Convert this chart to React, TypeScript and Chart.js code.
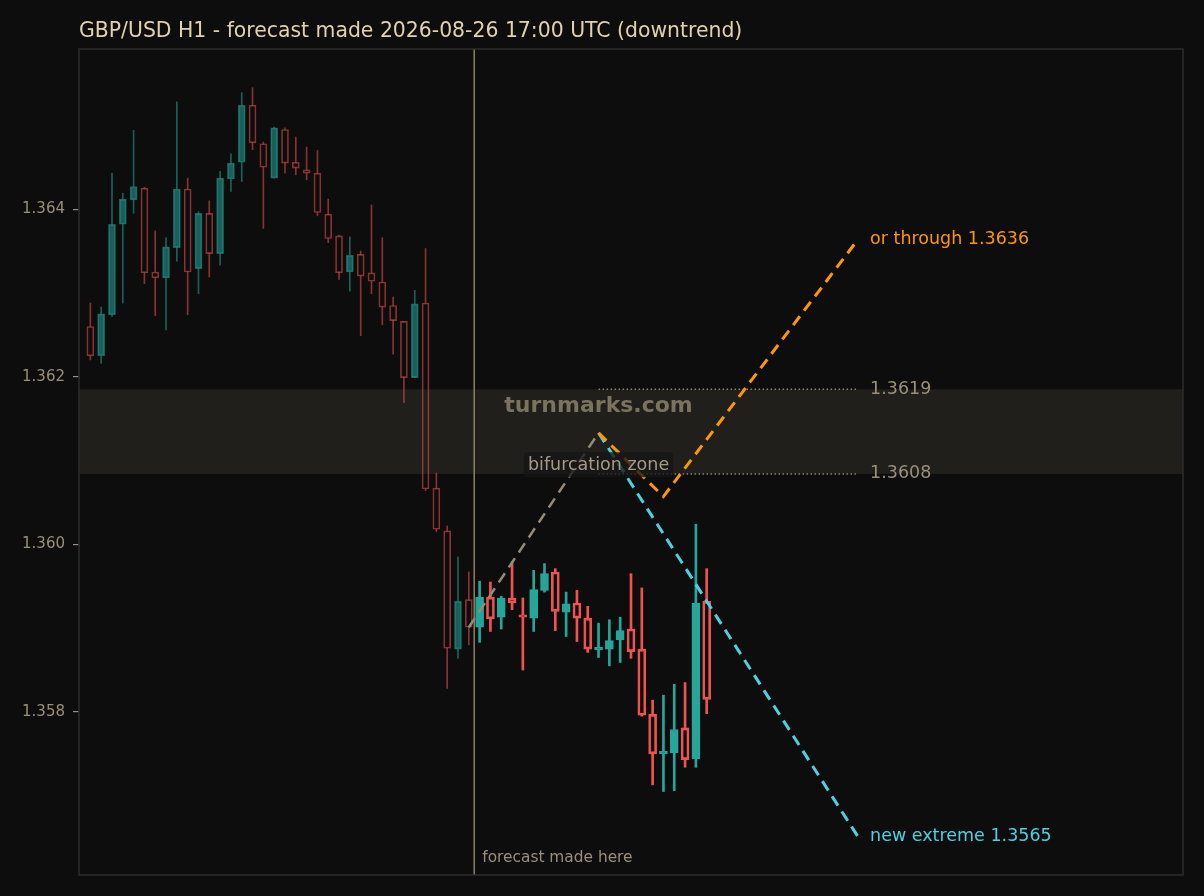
import { useEffect, useRef } from 'react'
import { Chart, registerables } from 'chart.js'

Chart.register(...registerables)

// history candles (H1), oldest first, x = 0..35
const histOpen = [
  1.3626, 1.36225, 1.36274, 1.36382, 1.36411, 1.36425, 1.36325, 1.36318, 1.36354, 1.36424,
  1.36329, 1.36395, 1.36347, 1.36436, 1.36456, 1.36524, 1.36478, 1.36437, 1.36495, 1.36456,
  1.36447, 1.36443, 1.36394, 1.36368, 1.36325, 1.36346, 1.36324, 1.36313, 1.36285, 1.36266,
  1.36199, 1.36288, 1.36067, 1.36016, 1.35875, 1.35934,
]
const histHigh = [
  1.36288, 1.36283, 1.36443, 1.36419, 1.36494, 1.36426, 1.36374, 1.36366, 1.36528, 1.36437,
  1.36397, 1.3641, 1.36445, 1.36466, 1.36539, 1.36545, 1.3648, 1.36498, 1.36497, 1.36486,
  1.36474, 1.3647, 1.36412, 1.36369, 1.36367, 1.3635, 1.36405, 1.36366, 1.36295, 1.36266,
  1.36303, 1.36353, 1.36085, 1.36022, 1.35985, 1.35967,
]
const histLow = [
  1.3622, 1.36216, 1.36272, 1.36288, 1.36395, 1.36311, 1.36273, 1.36256, 1.36338, 1.36274,
  1.36299, 1.36319, 1.36333, 1.36421, 1.36433, 1.36471, 1.36377, 1.36437, 1.36443, 1.36441,
  1.36435, 1.36392, 1.3636, 1.36316, 1.36302, 1.36249, 1.36299, 1.36262, 1.36227, 1.36169,
  1.36199, 1.36064, 1.36015, 1.35828, 1.35864, 1.3588,
]
const histClose = [
  1.36225, 1.36275, 1.36382, 1.36412, 1.36427, 1.36324, 1.36318, 1.36355, 1.36424, 1.36325,
  1.36395, 1.36347, 1.36437, 1.36455, 1.36524, 1.36479, 1.3645, 1.36497, 1.36455, 1.36449,
  1.36443, 1.36396, 1.36365, 1.36324, 1.36345, 1.3632, 1.36314, 1.36283, 1.36267, 1.36199,
  1.36287, 1.36066, 1.36018, 1.35876, 1.35932, 1.35901,
]

// candles after the forecast point, x = 36..57
const fcOpen = [
  1.35901, 1.35937, 1.35913, 1.35936, 1.35916, 1.35912, 1.35945, 1.35967, 1.35919, 1.3593,
  1.35912, 1.35874, 1.35875, 1.35886, 1.35899, 1.35875, 1.35797, 1.3575, 1.35751, 1.35781,
  1.35744, 1.35932,
]
const fcHigh = [
  1.35956, 1.35955, 1.35938, 1.35979, 1.35936, 1.35969, 1.35977, 1.35971, 1.35943, 1.35945,
  1.35926, 1.35906, 1.3591, 1.35913, 1.35965, 1.35948, 1.35814, 1.3582, 1.35833, 1.35835,
  1.36024, 1.35971,
]
const fcLow = [
  1.35883, 1.35896, 1.35899, 1.35922, 1.3585, 1.35896, 1.35943, 1.35897, 1.3589, 1.35884,
  1.35871, 1.35865, 1.35855, 1.35859, 1.35864, 1.35795, 1.35713, 1.35705, 1.35706, 1.35734,
  1.35734, 1.35798,
]
const fcClose = [
  1.35937, 1.35911, 1.35936, 1.3593, 1.35913, 1.35946, 1.35965, 1.3592, 1.35929, 1.35912,
  1.35875, 1.35877, 1.35885, 1.35897, 1.35872, 1.35796, 1.3575, 1.35753, 1.35779, 1.35743,
  1.3593, 1.35815,
]

const yTicks = [1.358, 1.36, 1.362, 1.364]

// projected paths
const basePathX = [35, 47]
const basePathY = [1.35901, 1.36133]
const upPathX = [47, 53, 71]
const upPathY = [1.36133, 1.36057, 1.36364]
const downPathX = [47, 71]
const downPathY = [1.36133, 1.35651]

const zoneX = [47, 71]
const zoneLevels = [1.36185, 1.36084]
const zoneLabels = ['1.3619', '1.3608']

const title = 'GBP/USD H1 - forecast made 2026-08-26 17:00 UTC (downtrend)'
const upLabel = 'or through 1.3636'
const downLabel = 'new extreme 1.3565'

const BG = '#0d0d0d'
const TAN = '#9a8f79'
const TEAL = '#26a69a'
const RED = '#ef5350'
const ORANGE = '#ff9800'
const CYAN = '#4dd0e1'
const FONT = '"DejaVu Sans", sans-serif'

function candleSets(open: number[], high: number[], low: number[], close: number[], start: number,
  up: string, down: string, bodyW: number, lineW: number) {
  const bull = open.map((o, i) => close[i] >= o)
  const wicks = open.flatMap((o, i) => [
    { x: start + i, y: [Math.max(o, close[i]), high[i]] },
    { x: start + i, y: [low[i], Math.min(o, close[i])] },
  ])
  return [
    {
      type: 'bar' as const,
      data: wicks,
      backgroundColor: bull.flatMap((b) => [b ? up : down, b ? up : down]),
      borderWidth: 0,
      barThickness: lineW,
      grouped: false,
      order: 3,
    },
    {
      type: 'bar' as const,
      data: open.map((o, i) => ({ x: start + i, y: [o, close[i]] })),
      backgroundColor: bull.map((b) => (b ? up : 'rgba(0,0,0,0)')),
      borderColor: bull.map((b) => (b ? up : down)),
      borderWidth: lineW,
      borderSkipped: false,
      barThickness: bodyW,
      grouped: false,
      order: 2,
    },
  ]
}

function pathSet(xs: number[], ys: number[], color: string, width: number, dash: number[]) {
  return {
    type: 'line' as const,
    data: xs.map((x, i) => ({ x, y: ys[i] })),
    borderColor: color,
    borderWidth: width,
    borderDash: dash,
    pointRadius: 0,
    fill: false,
    order: 1,
  }
}

const overlay = {
  id: 'overlay',
  beforeDatasetsDraw(chart: any) {
    const { ctx, chartArea: a, scales: { x, y } } = chart
    ctx.save()
    const t = y.getPixelForValue(zoneLevels[0])
    const b = y.getPixelForValue(zoneLevels[1])
    ctx.fillStyle = '#201f1b'
    ctx.fillRect(a.left, t, a.right - a.left, b - t)
    ctx.font = 'bold 22px ' + FONT
    ctx.fillStyle = '#7b725f'
    ctx.textAlign = 'center'
    ctx.textBaseline = 'middle'
    ctx.fillText('turnmarks.com', x.getPixelForValue(zoneX[0]), y.getPixelForValue(1.36165))
    ctx.restore()
  },
  afterDatasetsDraw(chart: any) {
    const { ctx, chartArea: a, scales: { x, y } } = chart
    ctx.save()
    // forecast made here
    const fx = x.getPixelForValue(histOpen.length - 0.5)
    ctx.strokeStyle = '#8a8068'
    ctx.lineWidth = 1.5
    ctx.beginPath()
    ctx.moveTo(fx, a.top)
    ctx.lineTo(fx, a.bottom)
    ctx.stroke()
    ctx.font = '15.4px ' + FONT
    ctx.fillStyle = TAN
    ctx.textAlign = 'left'
    ctx.textBaseline = 'middle'
    ctx.fillText('forecast made here', fx + 8, a.bottom - 17)

    // bifurcation zone label
    ctx.font = '17.5px ' + FONT
    const cx = x.getPixelForValue(zoneX[0])
    const cy = y.getPixelForValue(1.36095)
    const w = ctx.measureText('bifurcation zone').width + 8
    ctx.fillStyle = 'rgba(22,22,22,0.78)'
    ctx.beginPath()
    ctx.roundRect(cx - w / 2, cy - 12.5, w, 25, 4)
    ctx.fill()
    ctx.fillStyle = '#a59b85'
    ctx.textAlign = 'center'
    ctx.fillText('bifurcation zone', cx, cy + 1)

    // right labels
    const lx = x.getPixelForValue(zoneX[1]) + 12
    ctx.textAlign = 'left'
    ctx.fillStyle = ORANGE
    ctx.fillText(upLabel, lx, y.getPixelForValue(upPathY[upPathY.length - 1]))
    ctx.fillStyle = CYAN
    ctx.fillText(downLabel, lx, y.getPixelForValue(downPathY[downPathY.length - 1]))
    ctx.fillStyle = TAN
    zoneLevels.forEach((v, i) => ctx.fillText(zoneLabels[i], lx, y.getPixelForValue(v)))

    // frame
    ctx.strokeStyle = '#2c2c2c'
    ctx.lineWidth = 1.5
    ctx.strokeRect(a.left, a.top, a.right - a.left, a.bottom - a.top)
    ctx.restore()
  },
  afterDraw(chart: any) {
    const { ctx, chartArea: a } = chart
    ctx.save()
    ctx.font = '20.4px ' + FONT
    ctx.fillStyle = '#e2d2ac'
    ctx.textAlign = 'left'
    ctx.textBaseline = 'middle'
    ctx.fillText(title, a.left, 32)
    ctx.restore()
  },
}

export default function App() {
  const canvasRef = useRef<HTMLCanvasElement>(null)

  useEffect(() => {
    document.body.style.margin = '0'
    document.body.style.background = BG
    if (!canvasRef.current) return
    Chart.defaults.font.family = FONT

    const chart = new Chart(canvasRef.current, {
      type: 'bar',
      data: {
        datasets: [
          ...candleSets(histOpen, histHigh, histLow, histClose, 0,
            'rgba(38,166,154,0.55)', 'rgba(239,83,80,0.55)', 7, 1),
          ...candleSets(fcOpen, fcHigh, fcLow, fcClose, histOpen.length, TEAL, RED, 8, 2),
          pathSet(basePathX, basePathY, '#968c76', 2.5, [11, 7]),
          pathSet(upPathX, upPathY, ORANGE, 3, [11, 7]),
          pathSet(downPathX, downPathY, CYAN, 3, [11, 7]),
          pathSet(zoneX, [zoneLevels[0], zoneLevels[0]], '#8c8470', 1.5, [1.5, 2.5]),
          pathSet(zoneX, [zoneLevels[1], zoneLevels[1]], '#8c8470', 1.5, [1.5, 2.5]),
        ] as any,
      },
      options: {
        animation: false,
        responsive: false,
        layout: { padding: { top: 49, right: 21, bottom: 21, left: 0 } },
        plugins: {
          legend: { display: false },
          tooltip: { enabled: false },
        },
        scales: {
          x: { type: 'linear', min: -1.05, max: 101.05, display: false, offset: false },
          y: {
            min: 1.356054,
            max: 1.365911,
            afterBuildTicks: (scale: any) => {
              scale.ticks = yTicks.map((v) => ({ value: v }))
            },
            afterFit: (scale: any) => {
              scale.width = 79
            },
            ticks: {
              color: TAN,
              font: { size: 15, family: FONT },
              padding: 8,
              callback: (v: any) => Number(v).toFixed(3),
            },
            grid: { drawOnChartArea: false, drawTicks: true, tickLength: 6, color: TAN, lineWidth: 1.2 },
            border: { display: false },
          },
        },
      },
      plugins: [overlay],
    })

    return () => chart.destroy()
  }, [])

  return (
    <div style={{ width: 1204, height: 896, background: BG }}>
      <canvas ref={canvasRef} width={1204} height={896} style={{ display: 'block' }} />
    </div>
  )
}
